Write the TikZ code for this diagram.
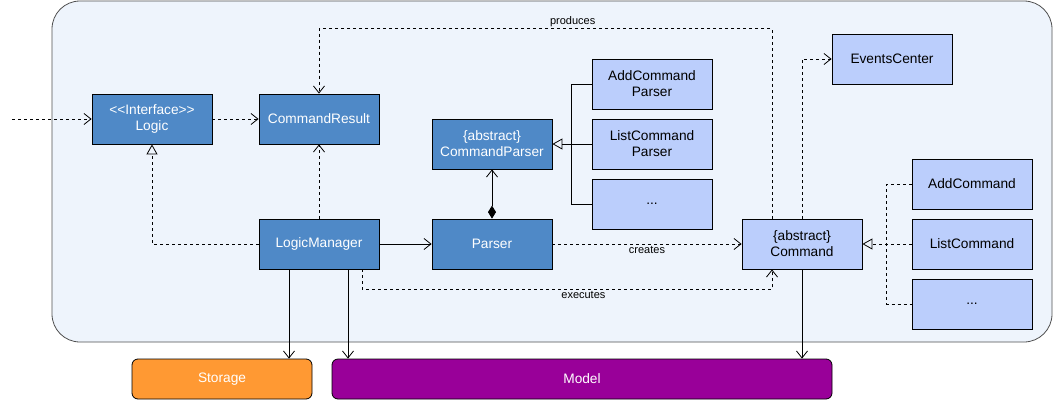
\documentclass[tikz,border=0pt]{standalone}
\usepackage{fontspec}
\setmainfont{Liberation Sans}
\usetikzlibrary{arrows.meta}

\definecolor{pkgfill}{RGB}{238,244,252}
\definecolor{pkgline}{RGB}{80,80,80}
\definecolor{darkcls}{RGB}{79,137,199}
\definecolor{lightcls}{RGB}{187,206,252}
\definecolor{storagefill}{RGB}{255,153,51}
\definecolor{modelfill}{RGB}{153,0,153}

\begin{document}
\begin{tikzpicture}[x=1pt, y=-1pt,
    cls/.style={rectangle, draw, line width=0.8pt, minimum width=120pt, minimum height=50pt, align=center, inner sep=1pt, font=\fontsize{13.7}{16}\selectfont},
    darkbox/.style={cls, fill=darkcls, text=white},
    lightbox/.style={cls, fill=lightcls, text=black},
    compbox/.style={rectangle, draw, line width=0.8pt, rounded corners=6pt, minimum height=40pt, text=white, font=\fontsize{13.7}{16}\selectfont},
    lbl/.style={font=\fontsize{11}{13}\selectfont, inner sep=1.5pt},
    openhead/.style={-{Straight Barb[length=7pt, width=11pt]}},
    assoc/.style={line width=0.8pt, openhead},
    dep/.style={line width=0.8pt, dash pattern=on 3pt off 3pt, openhead},
    realize/.style={line width=0.8pt, dash pattern=on 3pt off 3pt, -{Triangle[open, length=10pt, width=11pt]}},
    generalize/.style={line width=0.8pt, -{Triangle[open, length=10pt, width=11pt]}},
    plainline/.style={line width=0.8pt},
    dashline/.style={line width=0.8pt, dash pattern=on 3pt off 3pt}]
    \useasboundingbox (0,0) rectangle (1055,402);

    % Logic component
    \node[rectangle, draw=pkgline, line width=0.8pt, fill=pkgfill, rounded corners=28pt, minimum width=1000pt, minimum height=341pt] (logicpkg) at (552,171.5) {};

    % Logic classes
    \node[darkbox] (logic) at (152,119) {<{}<Interface>{}>\\Logic};
    \node[darkbox] (cmdresult) at (319,119) {CommandResult};
    \node[darkbox] (cmdparser) at (492,144) {\{abstract\}\\CommandParser};
    \node[darkbox] (logicmgr) at (319,244) {LogicManager};
    \node[darkbox] (parser) at (492,244) {Parser};

    % Concrete parsers
    \node[lightbox] (addparser) at (652,84) {AddCommand\\Parser};
    \node[lightbox] (listparser) at (652,144) {ListCommand\\Parser};
    \node[lightbox] (moreparser) at (652,204) {...};

    % Commands
    \node[lightbox] (events) at (892,59) {EventsCenter};
    \node[lightbox] (command) at (802,244) {\{abstract\}\\Command};
    \node[lightbox] (addcmd) at (972,184) {AddCommand};
    \node[lightbox] (listcmd) at (972,244) {ListCommand};
    \node[lightbox] (morecmd) at (972,304) {...};

    % Other components
    \node[compbox, fill=storagefill, minimum width=180pt] (storage) at (222,379) {Storage};
    \node[compbox, fill=modelfill, minimum width=500pt] (model) at (582,379) {Model};

    % Arrows
    \coordinate (caller) at (12,119);
    \draw[dep] (caller) -- (logic.west);
    \draw[dep] (logic.east) -- (cmdresult.west);
    \draw[realize] (logicmgr.west) -| (logic.south);
    \draw[dep] (logicmgr.north) -- (cmdresult.south);
    \draw[assoc] (logicmgr.east) -- (parser.west);
    \draw[line width=0.8pt, {Diamond[length=13pt, width=8pt]}-{Straight Barb[length=7pt, width=11pt]}] (parser.north) -- (cmdparser.south);
    \draw[plainline] (addparser.west) -- ++(-20,0) |- (moreparser.west);
    \draw[generalize] (listparser.west) -- (cmdparser.east);
    \draw[dep] (parser.east) -- (command.west) node[lbl, midway, below] {creates};
    \draw[dep] ([xshift=43pt]logicmgr.south) -- ++(0,20) -| ([xshift=-30pt]command.south) node[lbl, pos=0.27, below] {executes};
    \draw[dep] ([xshift=-30pt]command.north) -- ++(0,-190) -| (cmdresult.north) node[lbl, pos=0.22, above] {produces};
    \draw[dep] (command.north) |- (events.west);
    \draw[dashline] (addcmd.west) -- ++(-25,0) |- (morecmd.west);
    \draw[realize] (listcmd.west) -- (command.east);
    \draw[assoc] ([xshift=-30pt]logicmgr.south) -- ([xshift=-30pt]logicmgr.south |- storage.north);
    \draw[assoc] ([xshift=29pt]logicmgr.south) -- ([xshift=29pt]logicmgr.south |- model.north);
    \draw[assoc] (command.south) -- (command.south |- model.north);
\end{tikzpicture}
\end{document}
